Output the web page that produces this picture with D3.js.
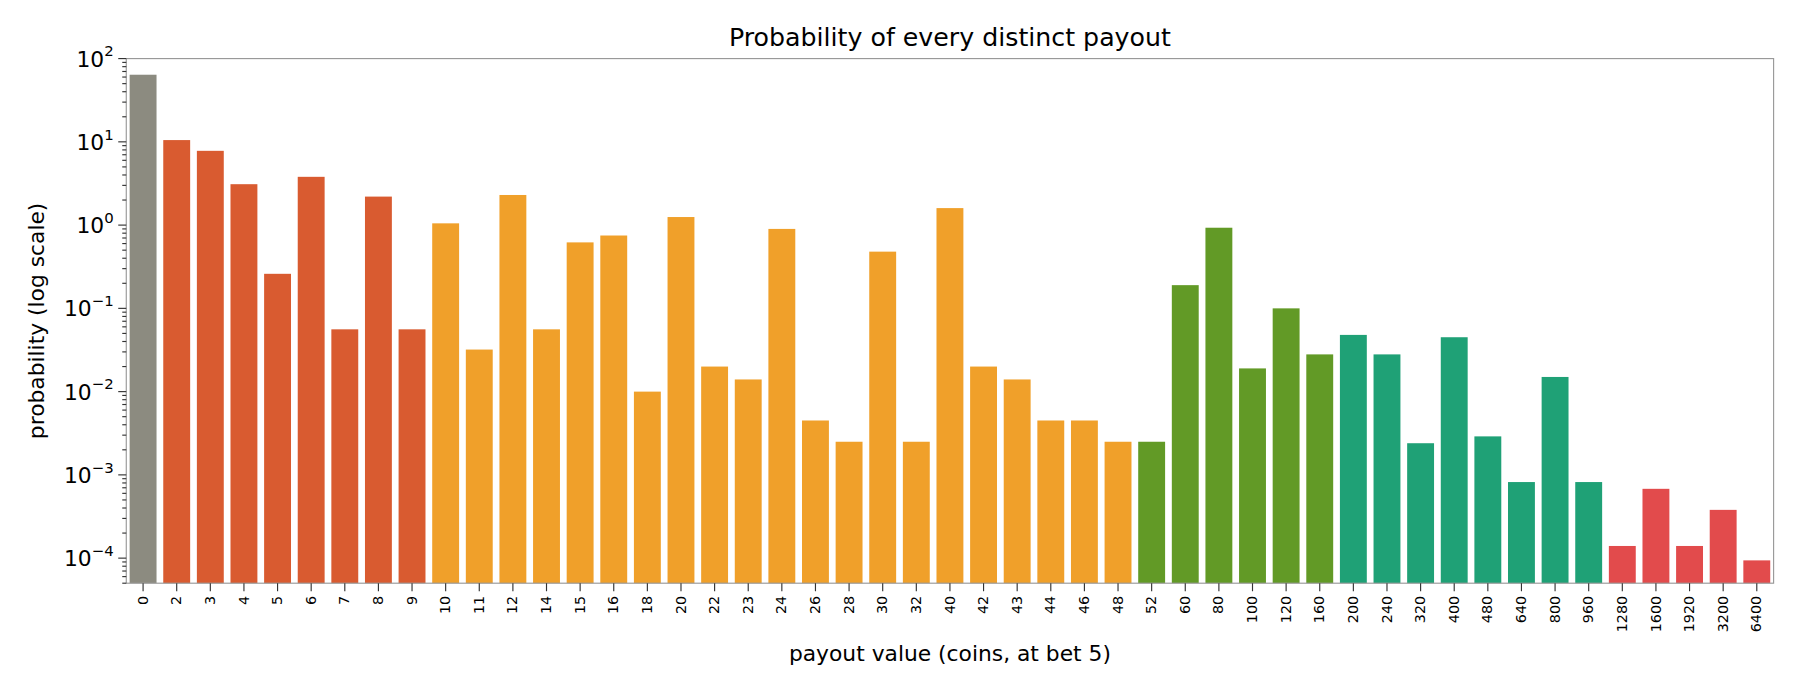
<!DOCTYPE html><html><head><meta charset="utf-8"><script src="https://cdn.jsdelivr.net/npm/d3@7"></script>
<style>body{margin:0;background:#fff;font-family:"DejaVu Sans",sans-serif}svg{display:block}</style></head><body><svg id="c" width="1800" height="690" viewBox="0 0 1568 601"></svg>
<script>
const categories=["0","2","3","4","5","6","7","8","9","10","11","12","14","15","16","18","20","22","23","24","26","28","30","32","40","42","43","44","46","48","52","60","80","100","120","160","200","240","320","400","480","640","800","960","1280","1600","1920","3200","6400"];
const values=[64,10.5,7.8,3.1,0.26,3.8,0.056,2.2,0.056,1.05,0.032,2.3,0.056,0.62,0.75,0.01,1.25,0.02,0.014,0.9,0.0045,0.0025,0.48,0.0025,1.6,0.02,0.014,0.0045,0.0045,0.0025,0.0025,0.19,0.93,0.019,0.1,0.028,0.048,0.028,0.0024,0.045,0.0029,0.00082,0.015,0.00082,0.00014,0.00068,0.00014,0.00038,0.000094];
const groups=[0,1,1,1,1,1,1,1,1,2,2,2,2,2,2,2,2,2,2,2,2,2,2,2,2,2,2,2,2,2,3,3,3,3,3,3,4,4,4,4,4,4,4,4,5,5,5,5,5];
const groupColors=["#8c8b80","#d95b30","#f0a02a","#629a26","#1fa176","#e24b4c"];
const yTicks=[-4,-3,-2,-1,0,1,2];
const svg=d3.select("#c");
const L=110,R=1545,T=51,B=508;
const x=d3.scaleBand().domain(categories).range([L,R]).paddingInner(0.2).paddingOuter(0.1);
const y=d3.scaleLog().domain([5e-5,100]).range([B,T]);
svg.selectAll("rect.b").data(values).join("rect").attr("x",(d,i)=>x(categories[i])).attr("width",x.bandwidth())
 .attr("y",d=>y(d)).attr("height",d=>B-y(d)).attr("fill",(d,i)=>groupColors[groups[i]]);
svg.append("rect").attr("x",L).attr("y",T).attr("width",R-L).attr("height",B-T).attr("fill","none").attr("stroke","#999");
const g=svg.append("g");
for(let e=-5;e<2;e++)for(let m=2;m<10;m++){const v=m*Math.pow(10,e);if(v<5e-5||v>100)continue;
 g.append("line").attr("x1",L).attr("x2",L-3.5).attr("y1",y(v)).attr("y2",y(v)).attr("stroke","#333");}
yTicks.forEach(e=>{const yy=y(Math.pow(10,e));
 g.append("line").attr("x1",L).attr("x2",L-7).attr("y1",yy).attr("y2",yy).attr("stroke","#333");
 const t=g.append("text").attr("x",L-11).attr("y",yy+7).attr("text-anchor","end").attr("font-size",19);
 t.append("tspan").text("10");t.append("tspan").attr("dy",-9).attr("font-size",13).text(e<0?"\u2212"+(-e):e);});
categories.forEach(c=>{const xx=x(c)+x.bandwidth()/2;
 g.append("line").attr("x1",xx).attr("x2",xx).attr("y1",B).attr("y2",B+7).attr("stroke","#333");
 g.append("text").attr("transform",`translate(${xx+4},${B+11}) rotate(-90)`).attr("text-anchor","end").attr("font-size",12.5).text(c);});
svg.append("text").attr("x",(L+R)/2).attr("y",40).attr("text-anchor","middle").attr("font-size",22).text("Probability of every distinct payout");
svg.append("text").attr("x",(L+R)/2).attr("y",576).attr("text-anchor","middle").attr("font-size",19).text("payout value (coins, at bet 5)");
svg.append("text").attr("transform",`translate(38,${(T+B)/2}) rotate(-90)`).attr("text-anchor","middle").attr("font-size",19).text("probability (log scale)");
</script></body></html>
